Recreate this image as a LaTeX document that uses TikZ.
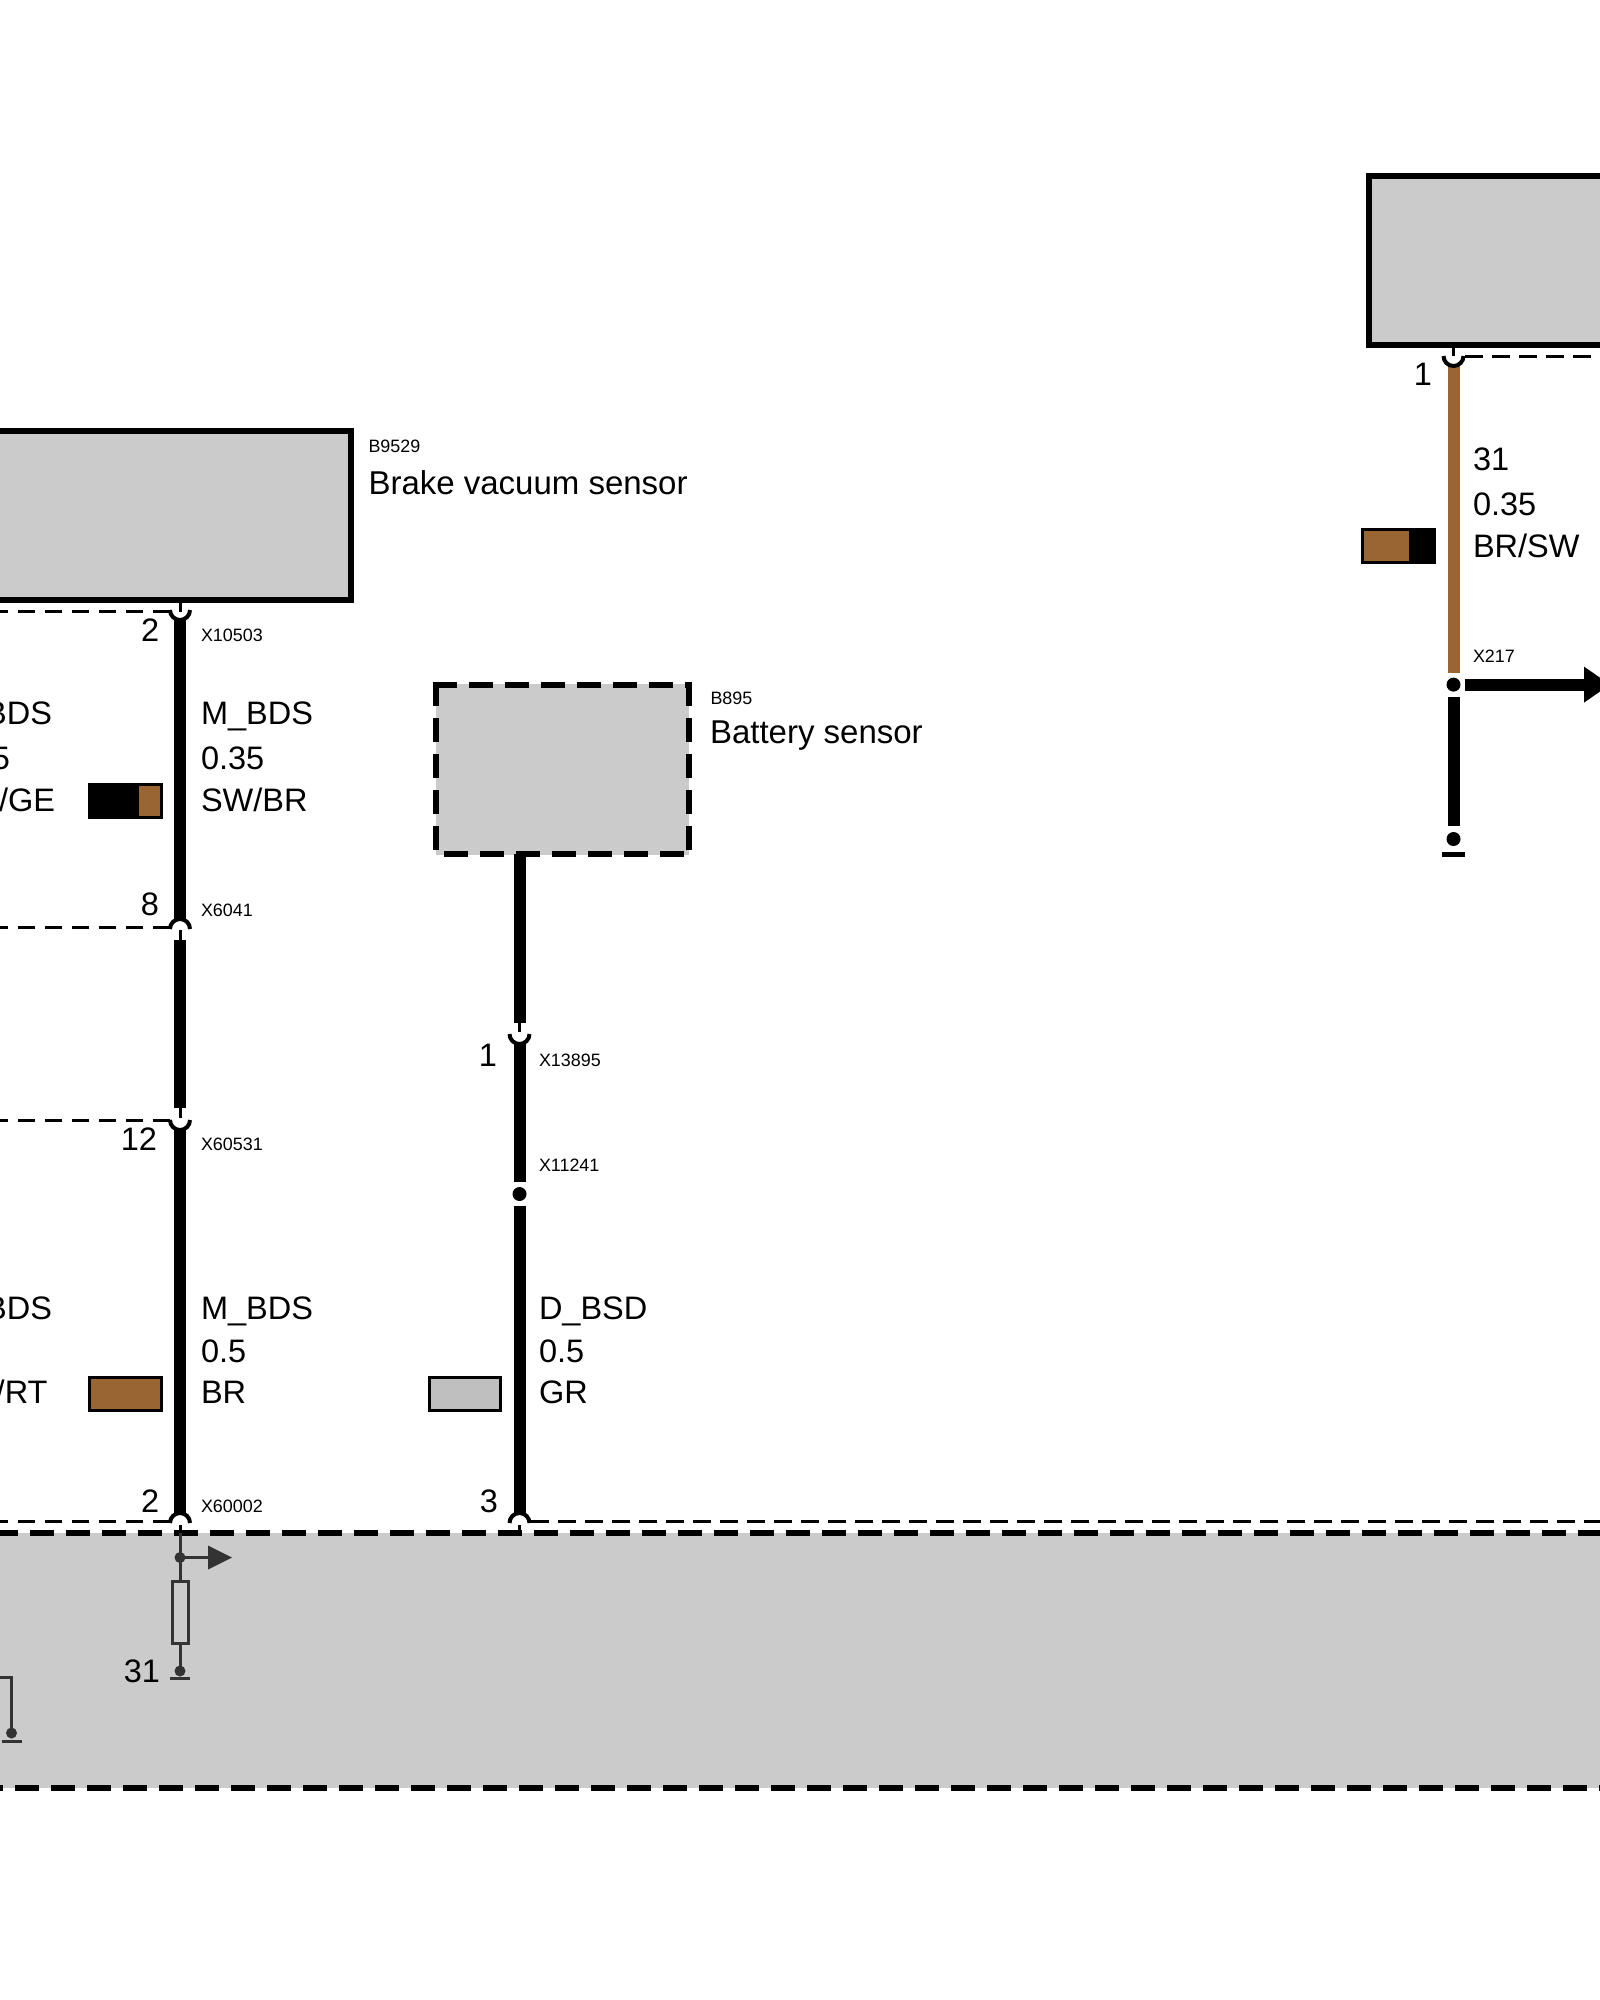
\documentclass[tikz,border=0pt]{standalone}
\usepackage{fontspec}
\usetikzlibrary{calc}
\setmainfont{Liberation Sans}
\definecolor{boxgray}{HTML}{CBCBCB}
\definecolor{swgray}{HTML}{BFBFBF}
\definecolor{wirebrown}{HTML}{996633}
\definecolor{dark}{HTML}{333333}
\tikzset{
  wire/.style={line width=12pt,line cap=butt},
  stub/.style={line width=3pt,line cap=butt},
  thinw/.style={line width=3pt,color=dark,line cap=butt},
  pinarc/.style={line width=4pt,line cap=butt},
  shield/.style={line width=3pt,dash pattern=on 17.5pt off 9.5pt},
  bigdash/.style={line width=6pt,dash pattern=on 24pt off 12pt},
  devbox/.style={draw=black,fill=boxgray,line width=6pt},
  swatch/.style={draw=black,line width=3pt},
  lab/.style={inner sep=0pt,outer sep=0pt,anchor=base west,font=\fontsize{32.5}{33}\selectfont},
  labr/.style={inner sep=0pt,outer sep=0pt,anchor=base east,font=\fontsize{32.5}{33}\selectfont},
  ttl/.style={inner sep=0pt,outer sep=0pt,anchor=base west,font=\fontsize{33}{33}\selectfont},
  small/.style={inner sep=0pt,outer sep=0pt,anchor=base west,font=\fontsize{17.9}{18}\selectfont},
  cupp/.pic={\draw[pinarc] (10,0) arc[start angle=0,end angle=180,radius=10];},
  capp/.pic={\draw[pinarc] (10,0) arc[start angle=0,end angle=-180,radius=10];},
}
\begin{document}
\begin{tikzpicture}[x=1pt,y=-1pt]
\useasboundingbox (0,0) rectangle (1600,2000);
\clip (0,0) rectangle (1600,2000);

% shared control-unit area
\fill[boxgray] (-10,1533) rectangle (1610,1788);
\draw[bigdash] (-6,1533) -- (1620,1533);
\draw[bigdash] (-21,1788) -- (1620,1788);

% device boxes
\draw[devbox] (-20,431) rectangle (351,600);
\draw[devbox] (1369,176) rectangle (1620,345);
\fill[boxgray] (436,684) rectangle (689,855);
\draw[bigdash] (433,685) -- (692,685);
\draw[bigdash] (444,854) -- (692,854);
\draw[bigdash] (436,682) -- (436,857);
\draw[bigdash] (689,682) -- (689,857);

% pin coordinates, wire 1
\coordinate (a0) at (180,603);
\coordinate (a1) at (180,610);
\coordinate (a2) at (180,929);
\coordinate (a3) at (180,1120);
\coordinate (a4) at (180,1523);
\coordinate (a5) at (180,1557.5);
\coordinate (a6) at (180,1581);
\coordinate (a7) at (180,1643);
\coordinate (a8) at (180,1671);
% wire 2
\coordinate (b0) at (519.5,854);
\coordinate (b1) at (519.5,1034);
\coordinate (b2) at (519.5,1194);
\coordinate (b3) at (519.5,1523);
% wire 3
\coordinate (c0) at (1453.5,347);
\coordinate (c1) at (1453.5,356);
\coordinate (c2) at (1453.5,684.6);
\coordinate (c3) at (1453.5,839);

% shields
\draw[shield] (170,611.7) -- (-20,611.7);
\draw[shield] (170,927.7) -- (-20,927.7);
\draw[shield] (170,1120) -- (-20,1120);
\draw[shield] (170,1521.7) -- (-20,1521.7);
\draw[shield] (531,1521.7) -- (1620,1521.7);
\draw[shield] (1465,356) -- (1620,356);

% wire 1
\draw[stub] (a0) -- ++(0,9);
\path (a1) pic {cupp};
\draw[wire] ($(a1)+(0,9)$) -- ($(a2)+(0,-9)$);
\path (a2) pic {capp};
\draw[stub] ($(a2)+(0,1)$) -- ++(0,11);
\draw[wire] ($(a2)+(0,11)$) -- ($(a3)+(0,-12)$);
\draw[stub] ($(a3)+(0,-12)$) -- ++(0,10);
\path (a3) pic {cupp};
\draw[wire] ($(a3)+(0,9)$) -- ($(a4)+(0,-9)$);
\path (a4) pic {capp};
\draw[stub] ($(a4)+(0,2)$) -- ++(0,9);
\draw[thinw] ($(a4)+(0,10)$) -- (a6);
\fill[dark] (a5) circle (5.5);
\draw[thinw] (a5) -- ++(28,0);
\fill[dark] (208,1545.5) -- (232,1557.5) -- (208,1569.5) -- cycle;
\draw[thinw] (172,1581) rectangle (188,1643);
\draw[thinw] (a7) -- (a8);
\fill[dark] (a8) circle (5.5);
\draw[thinw] (170,1678) -- (190,1678);
% second ground stub at left edge
\draw[thinw] (-10,1677) -- (11.5,1677) -- (11.5,1733);
\fill[dark] (11.5,1733) circle (5.5);
\draw[thinw] (1.5,1741) -- (21.5,1741);

% wire 2
\draw[wire] (b0) -- ($(b1)+(0,-11)$);
\draw[stub] ($(b1)+(0,-11)$) -- ++(0,9);
\path (b1) pic {cupp};
\draw[wire] ($(b1)+(0,9)$) -- ($(b2)+(0,-12)$);
\fill (b2) circle (7);
\draw[wire] ($(b2)+(0,12)$) -- ($(b3)+(0,-9)$);
\path (b3) pic {capp};
\draw[stub] ($(b3)+(0,2)$) -- ++(0,9);

% wire 3
\draw[stub] (c0) -- ++(0,9);
\draw[wire,color=wirebrown] ($(c1)+(0,10)$) -- ($(c2)+(0,-12)$);
\path (c1) pic {cupp};
\fill (c2) circle (7);
\draw[wire] ($(c2)+(11.5,0)$) -- (1585,684.6);
\fill (1584,666.6) -- (1610,684.6) -- (1584,702.6) -- cycle;
\draw[wire] ($(c2)+(0,12)$) -- ($(c3)+(0,-13)$);
\fill (c3) circle (7);
\draw[line width=5pt] (1442,854) -- (1464.5,854);

% swatches
\path[swatch,fill=black] (89.5,784.5) rectangle (161.5,817.5);
\fill[wirebrown] (139,786) rectangle (160,816);
\path[swatch,fill=wirebrown] (89.5,1377.5) rectangle (161.5,1410.5);
\path[swatch,fill=swgray] (429,1377.5) rectangle (500.5,1410.5);
\path[swatch,fill=black] (1362.5,529.5) rectangle (1434.5,562.5);
\fill[wirebrown] (1364,531) rectangle (1409,561);

% device names
\node[small] (n1) at (368.5,452) {B9529};
\node[ttl] (n2) at (368.5,494) {Brake vacuum sensor};
\node[small] (n3) at (710.5,704) {B895};
\node[ttl] (n4) at (710,743) {Battery sensor};

% pin numbers
\node[labr] (p1) at (159.3,641) {2};
\node[labr] (p2) at (159,915) {8};
\node[labr] (p3) at (157,1150) {12};
\node[labr] (p4) at (159.3,1512) {2};
\node[labr] (p5) at (160,1682) {31};
\node[labr] (p6) at (497,1066) {1};
\node[labr] (p7) at (498,1512) {3};
\node[labr] (p8) at (1432,385.5) {1};

% connector names
\node[small] (x1) at (201,641) {X10503};
\node[small] (x2) at (201,916) {X6041};
\node[small] (x3) at (201,1150) {X60531};
\node[small] (x4) at (201,1512) {X60002};
\node[small] (x5) at (539,1066) {X13895};
\node[small] (x6) at (539,1171) {X11241};
\node[small] (x7) at (1473,662) {X217};

% wire labels
\node[lab] (w1) at (201,724) {M\_BDS};
\node[lab] (w2) at (201,769) {0.35};
\node[lab] (w3) at (201,811) {SW/BR};
\node[labr] (w4) at (52,724) {BDS};
\node[labr] (w5) at (10,769) {5};
\node[labr] (w6) at (55,811) {/GE};
\node[lab] (w7) at (201,1319) {M\_BDS};
\node[lab] (w8) at (201,1362) {0.5};
\node[lab] (w9) at (201,1403) {BR};
\node[labr] (w10) at (52,1319) {BDS};
\node[labr] (w12) at (47.5,1403) {/RT};
\node[lab] (w13) at (539,1319) {D\_BSD};
\node[lab] (w14) at (539,1362) {0.5};
\node[lab] (w15) at (539,1403) {GR};
\node[lab] (w16) at (1473,470) {31};
\node[lab] (w17) at (1473,515) {0.35};
\node[lab] (w18) at (1473,557) {BR/SW};
\end{tikzpicture}
\end{document}
